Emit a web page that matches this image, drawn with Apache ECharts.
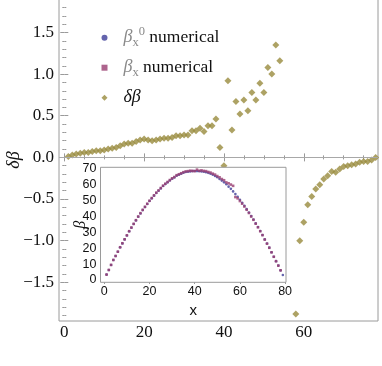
<!DOCTYPE html>
<html>
<head>
<meta charset="utf-8">
<script src="https://cdn.jsdelivr.net/npm/echarts@6/dist/echarts.min.js"></script>
<style>
html,body{margin:0;padding:0;background:#fff;}
#chart{width:382px;height:366px;}
</style>
</head>
<body>
<div id="chart"></div>
<script>
// position index along the line
var xIdx = [1,2,3,4,5,6,7,8,9,10,11,12,13,14,15,16,17,18,19,20,
  21,22,23,24,25,26,27,28,29,30,31,32,33,34,35,36,37,38,39,40,
  41,42,43,44,45,46,47,48,49,50,51,52,53,54,55,56,57,58,59,60,
  61,62,63,64,65,66,67,68,69,70,71,72,73,74,75,76,77,78,79];

// beta_x^0 numerical (inset, blue)
var beta0 = [3.4,6.3,9.5,12.6,15.1,17.8,20.6,23.1,25.6,28.1,
  30.7,33.0,35.3,37.6,39.9,42.0,44.1,46.0,47.9,49.8,
  51.5,53.2,54.9,56.3,57.8,59.3,60.5,61.6,62.8,63.9,
  64.7,65.8,66.4,67.0,67.7,68.1,68.3,68.5,68.7,68.8,
  68.7,68.6,68.5,68.3,68.0,67.6,67.0,66.4,65.6,64.8,
  63.7,62.7,61.6,60.4,58.9,57.5,55.9,54.2,52.5,50.6,
  48.7,46.8,44.7,42.6,40.3,38.2,35.7,33.4,30.9,28.4,
  25.6,23.0,20.4,17.5,14.7,11.9,9.1,6.1,3.2];

// beta_x numerical (inset, magenta)
var beta = [3.41,6.33,9.54,12.65,15.16,17.86,20.67,23.18,25.68,28.19,
  30.8,33.11,35.42,37.74,40.06,42.17,44.27,46.19,48.11,50.02,
  51.71,53.4,55.11,56.52,58.03,59.53,60.74,61.86,63.06,64.17,
  64.97,66.12,66.72,67.35,68.01,68.48,68.68,68.96,68.82,68.7,
  69.62,68.93,69.17,68.82,68.69,68.16,67.78,67.09,66.49,65.58,
  64.78,63.7,62.95,61.56,61.0,60.2,59.4,52.32,51.5,49.82,
  48.13,46.33,44.32,42.27,40.04,37.98,35.53,33.22,30.76,28.29,
  25.5,22.91,20.32,17.44,14.65,11.85,9.07,6.1];

// delta beta (main plot); null = outside the plotted range
var dBeta = [0.01,0.03,0.04,0.05,0.06,0.06,0.07,0.08,0.08,0.09,
  0.10,0.11,0.12,0.14,0.16,0.17,0.17,0.19,0.21,0.22,
  0.21,0.20,0.21,0.22,0.23,0.23,0.24,0.26,0.26,0.27,
  0.27,0.32,0.32,0.35,0.31,0.38,0.38,0.46,0.12,-0.10,
  0.92,0.33,0.67,0.52,0.69,0.56,0.78,0.69,0.89,0.78,
  1.08,1.00,1.35,1.16,null,null,null,-1.88,-1.00,-0.78,
  -0.57,-0.47,-0.38,-0.33,-0.26,-0.22,-0.17,-0.18,-0.14,-0.11,
  -0.10,-0.09,-0.08,-0.06,-0.05,-0.05,-0.03,0.00];

var mainXTicks = [0,20,40,60];
var mainYTicks = [-1.5,-1,-0.5,0,0.5,1,1.5];
var insetXTicks = [0,20,40,60,80];
var insetYTicks = [0,10,20,30,40,50,60,70];

var frameColor = "#9a9a9a";
var serif = "Liberation Serif";
var sans = "Liberation Sans";

function pairs(ys) {
  var out = [];
  for (var i = 0; i < ys.length; i++) {
    if (ys[i] !== null) out.push([xIdx[i], ys[i]]);
  }
  return out;
}

function minorList(lo, hi, step, majors) {
  var out = [];
  for (var v = lo; v <= hi + 1e-9; v += step) {
    var r = Math.round(v * 1000) / 1000;
    if (majors.indexOf(r) < 0) out.push(r);
  }
  return out;
}

function ax(grid, pos, min, max, ticks, len, label, extra) {
  var a = {
    type: "value", gridIndex: grid, position: pos, min: min, max: max,
    axisLine: {show: false},
    splitLine: {show: false},
    axisTick: {show: true, inside: true, length: len, customValues: ticks,
      lineStyle: {color: frameColor, width: 1}},
    axisLabel: label ? Object.assign({customValues: ticks}, label) : {show: false}
  };
  return Object.assign(a, extra || {});
}

var mX = [-1.33, 78.6], mY = [-1.965, 1.902];
var iX = [-1.68, 80.4], iY = [-1.45, 71.1];

var mXMinor = minorList(5, 75, 5, mainXTicks);
var mYMinor = minorList(-1.9, 1.8, 0.1, mainYTicks);
var iXMinor = minorList(5, 75, 5, insetXTicks);
var iYMinor = minorList(2, 70, 2, insetYTicks);

var mainLabel = {fontFamily: serif, fontSize: 17, color: "#111"};
var insetLabel = {fontFamily: sans, fontSize: 12.5, color: "#111"};

var legendText = {
  b0: "{g|β}{sub|x}{sup|0}{t| numerical}",
  b: "{g|β}{sub|x}{t| numerical}",
  d: "{it|δβ}"
};

var chart = echarts.init(document.getElementById("chart"));

var option = {
  animation: false,
  backgroundColor: "#fff",
  grid: [
    {left: 59, right: 4, top: -1, bottom: 45, show: true, borderColor: frameColor, borderWidth: 1, backgroundColor: "transparent", outerBoundsMode: "none"},
    {left: 59, right: 4, top: -1, bottom: 45, outerBoundsMode: "none"},
    {left: 100.5, right: 96, top: 167.3, bottom: 83.7, show: true, borderColor: frameColor, borderWidth: 1, backgroundColor: "#fff", outerBoundsMode: "none", z: 3},
    {left: 100.5, right: 96, top: 167.3, bottom: 83.7, outerBoundsMode: "none"}
  ],
  xAxis: [
    ax(0, "bottom", mX[0], mX[1], mainXTicks, 4, Object.assign({margin: 3}, mainLabel)),
    ax(0, "top", mX[0], mX[1], mainXTicks, 4),
    ax(1, "bottom", mX[0], mX[1], mXMinor, 2),
    ax(1, "top", mX[0], mX[1], mXMinor, 2),
    ax(2, "bottom", iX[0], iX[1], insetXTicks, 4, Object.assign({margin: 3}, insetLabel),
      {name: "x", nameLocation: "middle", nameGap: 21, nameMoveOverlap: false,
       nameTextStyle: {fontFamily: sans, fontSize: 15, color: "#111"}}),
    ax(2, "top", iX[0], iX[1], insetXTicks, 4),
    ax(3, "bottom", iX[0], iX[1], iXMinor, 2),
    ax(3, "top", iX[0], iX[1], iXMinor, 2)
  ],
  yAxis: [
    ax(0, "left", mY[0], mY[1], mainYTicks, 4, Object.assign({margin: 5,
      formatter: function (v) { return (v < 0 ? "\u2212" : "") + Math.abs(v).toFixed(1); }}, mainLabel),
      {name: "δβ", nameLocation: "middle", nameGap: 36, nameRotate: 90, nameMoveOverlap: false,
       nameTextStyle: {fontFamily: serif, fontStyle: "italic", fontSize: 18, color: "#111"}}),
    ax(0, "right", mY[0], mY[1], mainYTicks, 4),
    ax(1, "left", mY[0], mY[1], mYMinor, 2),
    ax(1, "right", mY[0], mY[1], mYMinor, 2),
    ax(2, "left", iY[0], iY[1], insetYTicks, 4, Object.assign({margin: 4}, insetLabel),
      {name: "β", nameLocation: "middle", nameGap: 12, nameRotate: 90, nameMoveOverlap: false,
       nameTextStyle: {fontFamily: serif, fontStyle: "italic", fontSize: 16, color: "#111"}}),
    ax(2, "right", iY[0], iY[1], insetYTicks, 4),
    ax(3, "left", iY[0], iY[1], iYMinor, 2),
    ax(3, "right", iY[0], iY[1], iYMinor, 2)
  ],
  legend: {
    orient: "vertical", left: 96.5, top: 20.7,
    itemWidth: 6, itemHeight: 6, itemGap: 9,
    selectedMode: false,
    data: ["b0", "b", "d"],
    formatter: function (name) { return legendText[name]; },
    textStyle: {
      padding: [0, 0, 0, 11],
      rich: {
        g: {fontFamily: serif, fontStyle: "italic", fontSize: 18, color: "#8a8a8a", lineHeight: 24},
        sub: {fontFamily: serif, fontSize: 12.5, color: "#8a8a8a", lineHeight: 14, verticalAlign: "bottom"},
        sup: {fontFamily: serif, fontSize: 12.5, color: "#8a8a8a", lineHeight: 14, verticalAlign: "top"},
        t: {fontFamily: serif, fontSize: 17.5, color: "#111", lineHeight: 24},
        it: {fontFamily: serif, fontStyle: "italic", fontSize: 18, color: "#111", lineHeight: 24}
      }
    }
  },
  series: [
    {
      name: "b0", type: "scatter", xAxisIndex: 4, yAxisIndex: 4, z: 4,
      symbol: "circle", symbolSize: 2.6, silent: true,
      itemStyle: {color: "#3d3d99"},
      data: pairs(beta0)
    },
    {
      name: "b", type: "scatter", xAxisIndex: 4, yAxisIndex: 4, z: 5,
      symbol: "rect", symbolSize: 2.6, silent: true,
      itemStyle: {color: "#993d71"},
      data: pairs(beta)
    },
    {
      name: "d", type: "scatter", xAxisIndex: 0, yAxisIndex: 0, z: 2,
      symbol: "diamond", symbolSize: 7, silent: true,
      itemStyle: {color: "#998b3d"},
      data: pairs(dBeta),
      markLine: {
        silent: true, symbol: "none", animation: false,
        label: {show: false},
        lineStyle: {color: "#a8a8a8", width: 1, type: "solid"},
        data: [{yAxis: 0}]
      }
    }
  ]
};

chart.setOption(option);
</script>
</body>
</html>
